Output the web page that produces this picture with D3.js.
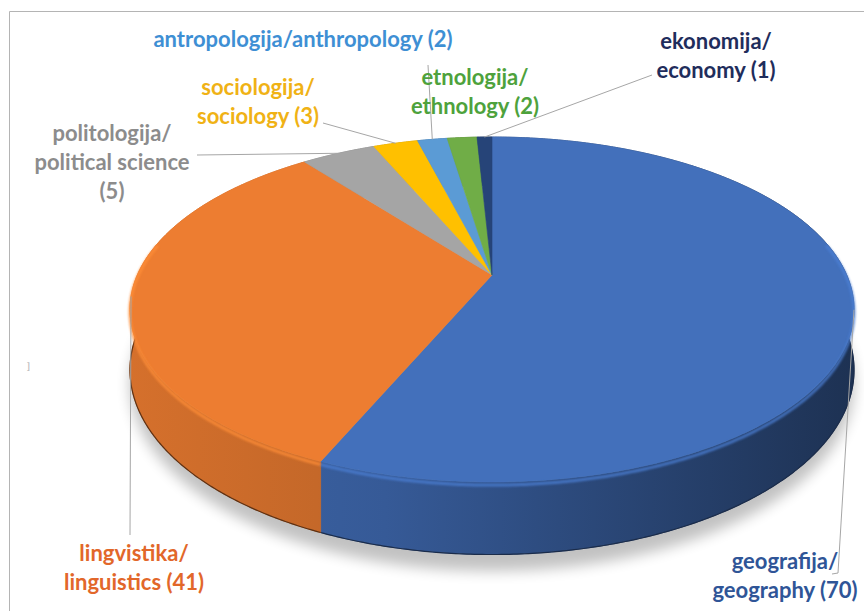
<!DOCTYPE html>
<html>
<head>
<meta charset="utf-8">
<script src="https://cdn.jsdelivr.net/npm/d3@7"></script>
<style>
  html, body { margin: 0; padding: 0; background: #fff; }
  svg { display: block; }
  text { font-family: Lato, "Open Sans", sans-serif; font-weight: 700; }
</style>
</head>
<body>
<svg id="chart" width="864" height="611"></svg>
<script>
// ---------------- data ----------------
const categoriesLocal   = ["geografija", "lingvistika", "politologija", "sociologija", "antropologija", "etnologija", "ekonomija"];
const categoriesEnglish = ["geography", "linguistics", "political science", "sociology", "anthropology", "ethnology", "economy"];
const values            = [70, 41, 5, 3, 2, 2, 1];

// ---------------- styles / layout ----------------
const sliceColors = ["#4370bb", "#ed7d31", "#a5a5a5", "#ffc000", "#5b9bd5", "#70ad47", "#264478"];
const textColors  = ["#2f5597", "#e2672a", "#8c8c8c", "#f0b215", "#3e8fd4", "#4ea23c", "#1f2d5c"];
const labelModes  = ["two", "two", "three", "two", "one", "two", "two"];
const labelPos    = [[785, 569], [134, 561], [112, 141], [258, 95], [303, 47], [475, 85], [716, 49]];
const leaderFrom  = [[[832, 574], [838, 573]], [[130, 535]], [[197, 155]], [[323, 123]], [[428, 65]], null, [[652, 75]]];
const lineH = 29;
const fontSize = 22;

const W = 864, H = 611;
const svg = d3.select("#chart");
const defs = svg.append("defs");

// perspective projection of a tilted disk
const geo = { cx: 492, cy: 275, R: 354.7, A: 165.6, k: 0.2, depth: 58 };
function proj(theta, drop = 0) {
  const X = Math.sin(theta), Z = -Math.cos(theta);
  const s = 1 / (1 - geo.k * Z);
  return [geo.cx + geo.R * X * s, geo.cy + (geo.A * Z + drop) * s];
}
function arcPts(a0, a1, drop = 0) {
  const n = Math.max(2, Math.ceil(Math.abs(a1 - a0) / (Math.PI / 360)));
  return d3.range(n + 1).map(i => proj(a0 + (a1 - a0) * i / n, drop));
}
const line = d3.line();

const pie = d3.pie().sort(null).value(d => d)(values);

// filters
const blur = defs.append("filter").attr("id", "shadowBlur").attr("x", "-20%").attr("y", "-20%").attr("width", "140%").attr("height", "140%");
blur.append("feGaussianBlur").attr("stdDeviation", 7);
const lipBlur = defs.append("filter").attr("id", "lipBlur");
lipBlur.append("feGaussianBlur").attr("stdDeviation", 1.2);

// side gradients
pie.forEach((p, i) => {
  const c = d3.color(sliceColors[i]);
  const g = defs.append("linearGradient").attr("id", "side" + i)
    .attr("gradientUnits", "userSpaceOnUse").attr("x1", 130).attr("x2", 860).attr("y1", 0).attr("y2", 0);
  g.append("stop").attr("offset", 0).attr("stop-color", c.darker(0.3));
  g.append("stop").attr("offset", 0.35).attr("stop-color", c.darker(0.6));
  g.append("stop").attr("offset", 1).attr("stop-color", c.darker(2.3));
});

// shadow
svg.append("path")
  .attr("d", line(arcPts(0, 2 * Math.PI, geo.depth + 10)) + "Z")
  .attr("transform", "translate(0,4)")
  .attr("fill", "#000").attr("opacity", 0.24)
  .attr("filter", "url(#shadowBlur)");

// sides
svg.append("g").selectAll("path").data(pie).join("path")
  .attr("d", d => {
    const top = arcPts(d.startAngle, d.endAngle, 0);
    const bot = arcPts(d.endAngle, d.startAngle, geo.depth);
    return line(top.concat(bot)) + "Z";
  })
  .attr("fill", (d, i) => `url(#side${i})`)
  .attr("stroke", (d, i) => `url(#side${i})`).attr("stroke-width", 0.8);

// bottom edge dark line
svg.append("g").selectAll("path").data(pie).join("path")
  .attr("d", d => {
    const a0 = Math.max(d.startAngle, Math.PI / 2 - 0.15), a1 = Math.min(d.endAngle, 1.5 * Math.PI + 0.15);
    return a1 > a0 ? line(arcPts(a0, a1, geo.depth)) : null;
  })
  .attr("fill", "none")
  .attr("stroke", (d, i) => d3.color(sliceColors[i]).darker(2.6))
  .attr("stroke-width", 1.2);

// top faces
svg.append("g").selectAll("path").data(pie).join("path")
  .attr("d", d => line([[geo.cx, geo.cy]].concat(arcPts(d.startAngle, d.endAngle, 0))) + "Z")
  .attr("fill", (d, i) => sliceColors[i])
  .attr("stroke", (d, i) => sliceColors[i]).attr("stroke-width", 0.6);

// bevel lip highlight (front)
svg.append("g").selectAll("path").data(pie).join("path")
  .attr("d", d => {
    const a0 = Math.max(d.startAngle, Math.PI / 2 - 0.2), a1 = Math.min(d.endAngle, 1.5 * Math.PI + 0.2);
    return a1 > a0 ? line(arcPts(a0, a1, 2.5)) : null;
  })
  .attr("fill", "none")
  .attr("stroke", (d, i) => d3.color(sliceColors[i]).brighter(0.35))
  .attr("stroke-width", 3).attr("opacity", 0.8)
  .attr("filter", "url(#lipBlur)");

// leader lines
svg.append("g").selectAll("path").data(pie.filter((d, i) => leaderFrom[i])).join("path")
  .attr("d", d => {
    const mid = (d.startAngle + d.endAngle) / 2;
    const pts = leaderFrom[d.index].concat([proj(mid, 0)]);
    return line(pts);
  })
  .attr("fill", "none").attr("stroke", "#a6a6a6").attr("stroke-width", 1);

// labels
function labelLines(i) {
  const loc = categoriesLocal[i], en = categoriesEnglish[i], v = values[i];
  if (labelModes[i] === "one") return [`${loc}/${en} (${v})`];
  if (labelModes[i] === "three") return [`${loc}/`, en, `(${v})`];
  return [`${loc}/`, `${en} (${v})`];
}
const labels = svg.append("g").selectAll("text").data(pie).join("text")
  .attr("x", (d, i) => labelPos[i][0])
  .attr("y", (d, i) => labelPos[i][1])
  .attr("text-anchor", "middle")
  .attr("font-size", fontSize)
  .attr("fill", (d, i) => textColors[i]);
labels.selectAll("tspan").data((d, i) => labelLines(i).map(t => ({ t, i }))).join("tspan")
  .attr("x", d => labelPos[d.i][0])
  .attr("dy", (d, j) => j === 0 ? 0 : lineH)
  .text(d => d.t);

// frame
svg.append("path").attr("d", `M9.5,${H}V11.5H${W}`).attr("fill", "none").attr("stroke", "#b4b4b4").attr("stroke-width", 1);
svg.append("text").attr("x", 27).attr("y", 369).attr("font-size", 10).attr("font-weight", 400).attr("fill", "#bdbdbd").text("]");
</script>
</body>
</html>
